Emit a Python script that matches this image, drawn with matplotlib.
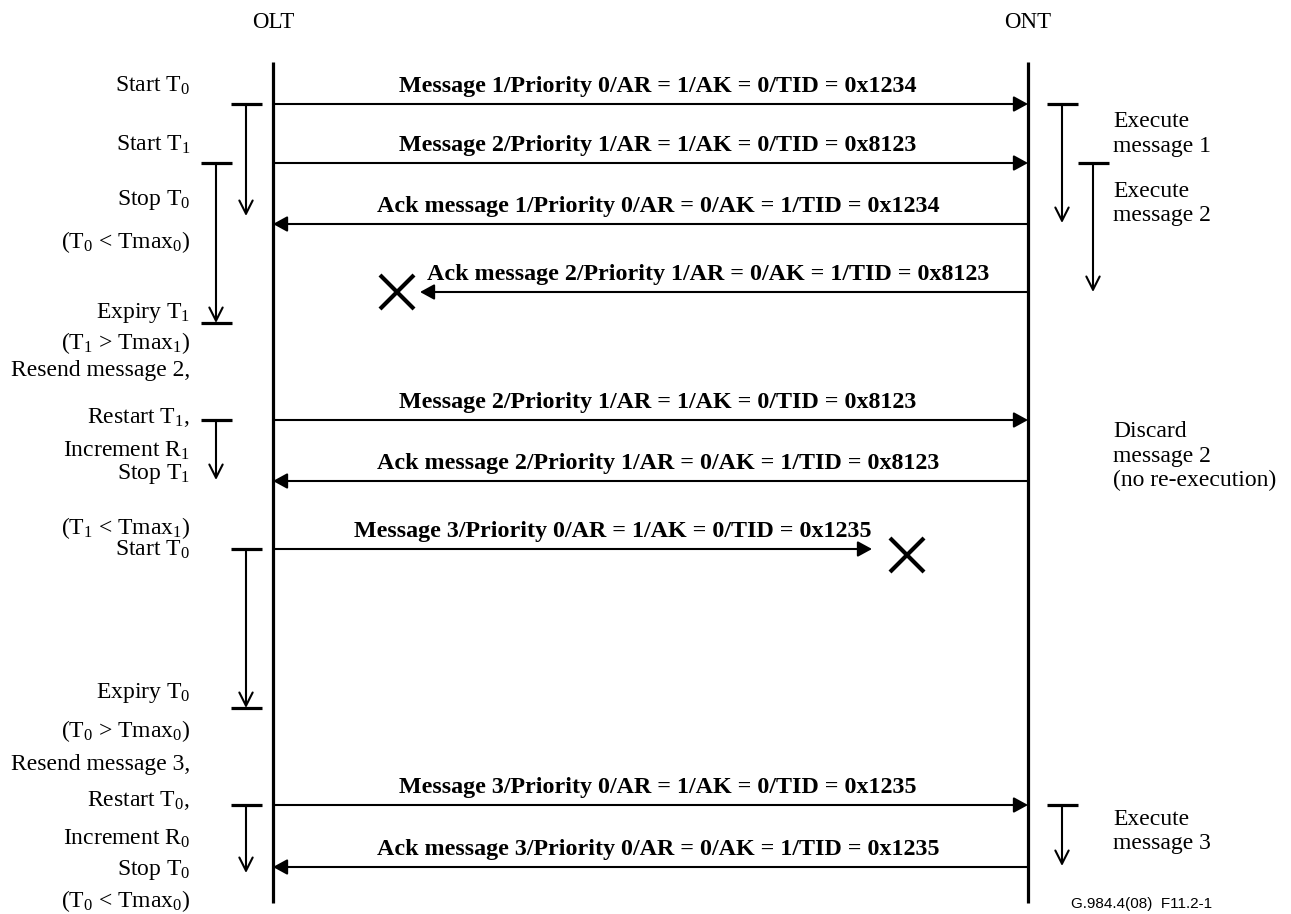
import matplotlib.pyplot as plt
from matplotlib.patches import FancyArrowPatch

plt.rcParams['font.family'] = ['Liberation Serif', 'DejaVu Serif']
plt.rcParams['mathtext.fontset'] = 'custom'
plt.rcParams['mathtext.rm'] = 'Liberation Serif'
plt.rcParams['mathtext.default'] = 'regular'

# endpoints
olt_x = 273
ont_x = 1028
life_top, life_bottom = 62, 903

# messages: time (y), direction, text, lost-at (None = delivered)
msg_y = [104, 163, 224, 292, 420, 481, 549, 805, 867]
msg_dir = ['r', 'r', 'l', 'l', 'r', 'l', 'r', 'r', 'l']
msg_text = [
    "Message 1/Priority 0/AR = 1/AK = 0/TID = 0x1234",
    "Message 2/Priority 1/AR = 1/AK = 0/TID = 0x8123",
    "Ack message 1/Priority 0/AR = 0/AK = 1/TID = 0x1234",
    "Ack message 2/Priority 1/AR = 0/AK = 1/TID = 0x8123",
    "Message 2/Priority 1/AR = 1/AK = 0/TID = 0x8123",
    "Ack message 2/Priority 1/AR = 0/AK = 1/TID = 0x8123",
    "Message 3/Priority 0/AR = 1/AK = 0/TID = 0x1235",
    "Message 3/Priority 0/AR = 1/AK = 0/TID = 0x1235",
    "Ack message 3/Priority 0/AR = 0/AK = 1/TID = 0x1235",
]
msg_lost = [None, None, None, 420, None, None, 872, None, None]
msg_text_x = [658, 658, 658, 708, 658, 658, 613, 658, 658]
lost_x = [397, 907]
lost_y = [292, 555]

# timers: x, start, end, closing bar
olt_timer_x = [246, 216, 216, 246, 246]
olt_timer_start = [104, 163, 420, 549, 805]
olt_timer_end = [216, 323, 480, 708, 873]
olt_timer_bar = [False, True, False, True, False]
ont_timer_x = [1062, 1093, 1062]
ont_timer_start = [104, 163, 805]
ont_timer_end = [223, 292, 866]

left_text = [
    "Start T$_0$", "Start T$_1$", "Stop T$_0$", "(T$_0$ < Tmax$_0$)",
    "Expiry T$_1$", "(T$_1$ > Tmax$_1$)", "Resend message 2,", "Restart T$_1$,",
    "Increment R$_1$", "Stop T$_1$", "(T$_1$ < Tmax$_1$)", "Start T$_0$",
    "Expiry T$_0$", "(T$_0$ > Tmax$_0$)", "Resend message 3,", "Restart T$_0$,",
    "Increment R$_0$", "Stop T$_0$", "(T$_0$ < Tmax$_0$)",
]
left_y = [92, 151, 205, 248, 318, 349, 376, 423, 457, 479, 534, 556,
          698, 737, 770, 806, 845, 875, 907]

right_text = ["Execute", "message 1", "Execute", "message 2",
              "Discard", "message 2", "(no re-execution)",
              "Execute", "message 3"]
right_y = [127, 152, 197, 221, 437, 462, 486, 825, 849]

fig = plt.figure(figsize=(12.91, 9.14), dpi=100)
ax = fig.add_axes([0, 0, 1, 1])
ax.set_xlim(0, 1291)
ax.set_ylim(914, 0)
ax.axis('off')

# lifelines
for x, name in [(olt_x, 'OLT'), (ont_x, 'ONT')]:
    ax.plot([x, x], [life_top, life_bottom], color='black', lw=2.3, solid_capstyle='butt')
    ax.text(x, 28, name, ha='center', va='baseline', fontsize=16.5)

# messages
for y, d, t, lost, tx in zip(msg_y, msg_dir, msg_text, msg_lost, msg_text_x):
    if d == 'r':
        x0, x1 = olt_x, ont_x
    else:
        x0, x1 = ont_x, olt_x
    if lost is not None:
        x1 = lost
    ax.add_patch(FancyArrowPatch((x0, y), (x1, y),
                                 arrowstyle='-|>,head_length=0.86,head_width=0.47',
                                 mutation_scale=10, shrinkA=0, shrinkB=0,
                                 lw=1.5, color='black'))
    ax.text(tx, y - 12, t, ha='center', va='baseline', fontsize=17.3, fontweight='bold')

ax.plot(lost_x, lost_y, 'x', color='black', ms=25, mew=3)


def timer(x, y0, y1, bar):
    ax.plot([x - 15.5, x + 15.5], [y0, y0], color='black', lw=2.3, solid_capstyle='butt')
    ax.add_patch(FancyArrowPatch((x, y0), (x, y1),
                                 arrowstyle='->,head_length=0.95,head_width=0.48',
                                 mutation_scale=10, shrinkA=0, shrinkB=0,
                                 lw=1.5, color='black'))
    if bar:
        ax.plot([x - 15.5, x + 15.5], [y1, y1], color='black', lw=2.3, solid_capstyle='butt')


for x, a, b, bar in zip(olt_timer_x, olt_timer_start, olt_timer_end, olt_timer_bar):
    timer(x, a, b, bar)
for x, a, b in zip(ont_timer_x, ont_timer_start, ont_timer_end):
    timer(x, a, b, False)

for t, y in zip(left_text, left_y):
    ax.text(190, y, t, ha='right', va='baseline', fontsize=17)
for t, y in zip(right_text, right_y):
    ax.text(1113, y, t, ha='left', va='baseline', fontsize=17)

ax.text(1212, 908, "G.984.4(08)  F11.2-1", ha='right', va='baseline',
        fontsize=11, family='Liberation Sans')

fig.savefig('out.png', dpi=100)
